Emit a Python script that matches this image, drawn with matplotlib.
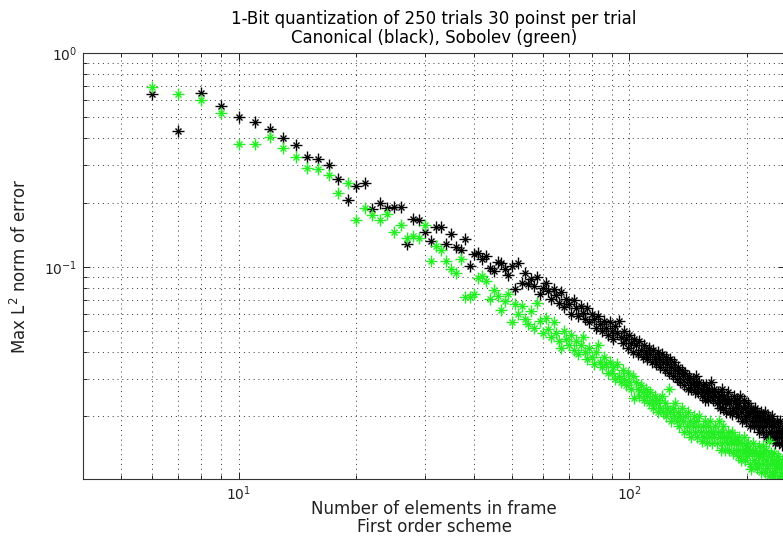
import matplotlib
matplotlib.use("Agg")
import matplotlib.pyplot as plt
from matplotlib.ticker import LogLocator, NullFormatter

plt.rcParams['font.family'] = ['DejaVu Sans']
plt.rcParams['mathtext.fontset'] = 'dejavusans'
plt.rcParams['mathtext.default'] = 'regular'

# ? number of frame elements, one point per N for each scheme
n_elements = list(range(6, 251))

# ? canonical (black) max L2 error, N = 6..250
canonical = [
    0.642, 0.43, 0.649, 0.564, 0.50, 0.474, 0.44, 0.399, 0.37, 0.328,
    0.321, 0.301, 0.259, 0.206, 0.24, 0.248, 0.187, 0.198, 0.189, 0.191,
    0.191, 0.128, 0.168, 0.166, 0.146, 0.132, 0.153, 0.153, 0.128, 0.143,
    0.124, 0.12, 0.135, 0.101, 0.115,
    0.116, 0.109, 0.112, 0.099, 0.096, 0.106, 0.104, 0.098, 0.092, 0.101,
    0.079, 0.104, 0.084, 0.094, 0.083, 0.088, 0.081, 0.090, 0.075, 0.080,
    0.084, 0.077, 0.071, 0.079, 0.074, 0.068, 0.076, 0.065, 0.071, 0.067,
    0.060, 0.070, 0.064, 0.059, 0.066, 0.061, 0.057, 0.064, 0.055, 0.060,
    0.057, 0.052, 0.059, 0.054, 0.050, 0.056, 0.052, 0.048, 0.055, 0.050,
    0.046, 0.053, 0.049, 0.056, 0.047, 0.044, 0.050, 0.046, 0.042, 0.048,
    0.044, 0.040, 0.046, 0.043, 0.039, 0.045, 0.041, 0.038, 0.043, 0.040,
    0.037, 0.042, 0.039, 0.036, 0.041, 0.038, 0.035, 0.040, 0.037, 0.034,
    0.039, 0.036, 0.033, 0.038, 0.035, 0.032, 0.037, 0.034, 0.031, 0.036,
    0.033, 0.030, 0.034, 0.032, 0.029, 0.033, 0.031, 0.028, 0.032, 0.030,
    0.027, 0.031, 0.029, 0.027, 0.030, 0.028, 0.026, 0.031, 0.028, 0.026,
    0.029, 0.027, 0.025, 0.028, 0.026, 0.024, 0.028, 0.026, 0.024, 0.027,
    0.025, 0.029, 0.026, 0.024, 0.027, 0.025, 0.023, 0.026, 0.024, 0.022,
    0.025, 0.027, 0.024, 0.022, 0.025, 0.023, 0.021, 0.024, 0.026, 0.023,
    0.021, 0.024, 0.0205, 0.022, 0.025, 0.023, 0.021, 0.024, 0.022, 0.020,
    0.023, 0.025, 0.021, 0.019, 0.022, 0.024, 0.020, 0.022, 0.019, 0.021,
    0.023, 0.020, 0.018, 0.021, 0.022, 0.019, 0.021, 0.018, 0.020, 0.022,
    0.019, 0.021, 0.018, 0.020, 0.017, 0.019, 0.021, 0.018, 0.020, 0.017,
    0.019, 0.021, 0.018, 0.016, 0.019, 0.020, 0.017, 0.019, 0.016, 0.018,
    0.020, 0.017, 0.019, 0.016, 0.018, 0.015, 0.017, 0.019, 0.016, 0.018,
    0.015, 0.017, 0.019, 0.016, 0.0147, 0.017, 0.018, 0.016, 0.015, 0.017,
]

# ? Sobolev (green) max L2 error, N = 6..250
sobolev = [
    0.692, 0.642, 0.602, 0.523, 0.374, 0.374, 0.403, 0.358, 0.325, 0.291,
    0.286, 0.27, 0.222, 0.248, 0.166, 0.189, 0.175, 0.166, 0.177, 0.146,
    0.157, 0.137, 0.14, 0.137, 0.157, 0.107, 0.125, 0.12, 0.107, 0.098,
    0.094, 0.109, 0.072, 0.072, 0.075,
    0.089, 0.091, 0.086, 0.071, 0.078, 0.073, 0.063, 0.069, 0.075, 0.055,
    0.067, 0.060, 0.066, 0.057, 0.054, 0.062, 0.052, 0.068, 0.056, 0.049,
    0.058, 0.051, 0.047, 0.055, 0.049, 0.045, 0.042, 0.050, 0.046, 0.043,
    0.048, 0.041, 0.045, 0.039, 0.043, 0.047, 0.040, 0.037, 0.042, 0.038,
    0.035, 0.040, 0.043, 0.036, 0.034, 0.038, 0.035, 0.032, 0.036, 0.032,
    0.034, 0.030, 0.035, 0.031, 0.029, 0.033, 0.030, 0.028, 0.032, 0.029,
    0.027, 0.031, 0.0245, 0.029, 0.027, 0.025, 0.028, 0.026, 0.024, 0.027,
    0.025, 0.023, 0.026, 0.024, 0.022, 0.025, 0.023, 0.021, 0.024, 0.022,
    0.025, 0.021, 0.023, 0.020, 0.022, 0.027, 0.021, 0.019, 0.022, 0.020,
    0.023, 0.019, 0.021, 0.018, 0.020, 0.022, 0.019, 0.017, 0.020, 0.018,
    0.021, 0.017, 0.019, 0.016, 0.018, 0.020, 0.017, 0.019, 0.016, 0.018,
    0.020, 0.017, 0.0153, 0.018, 0.016, 0.019, 0.017, 0.015, 0.018, 0.016,
    0.019, 0.017, 0.015, 0.017, 0.016, 0.018, 0.015, 0.017, 0.019, 0.016,
    0.014, 0.017, 0.015, 0.018, 0.016, 0.014, 0.016, 0.015, 0.017, 0.014,
    0.016, 0.015, 0.017, 0.0135, 0.015, 0.016, 0.014, 0.0155, 0.013, 0.015,
    0.016, 0.014, 0.0125, 0.015, 0.0135, 0.016, 0.014, 0.0125, 0.0145, 0.013,
    0.015, 0.0137, 0.012, 0.014, 0.0114, 0.0135, 0.015, 0.0125, 0.014, 0.012,
    0.0135, 0.0115, 0.013, 0.0145, 0.012, 0.0135, 0.011, 0.013, 0.0145, 0.012,
    0.0135, 0.011, 0.0125, 0.014, 0.0115, 0.013, 0.0105, 0.0153, 0.012, 0.0135,
    0.011, 0.0125, 0.0105, 0.012, 0.0135, 0.011, 0.0125, 0.010, 0.0115, 0.013,
    0.0105, 0.012, 0.0102, 0.0115, 0.0107, 0.0125, 0.0103, 0.0115, 0.010, 0.012,
]

# ? Setup figure (783 x 541 px)
fig = plt.figure(figsize=(7.83, 5.41), dpi=100)
ax = fig.add_axes([83 / 783, 62 / 541, 702 / 783, 426 / 541])
ax.set_xscale('log')
ax.set_yscale('log')
ax.set_xlim(4, 250)
ax.set_ylim(0.0102, 1)

# ? MATLAB style '*' marker = '+' overlaid with 'x'
for vals, col in ((canonical, 'black'), (sobolev, '#22ee22')):
    ax.plot(n_elements, vals, linestyle='none', marker='+', markersize=8,
            markeredgewidth=1.0, color=col)
    ax.plot(n_elements, vals, linestyle='none', marker='x', markersize=4.5,
            markeredgewidth=1.0, color=col)

# ? Grid, ticks and spines
ax.xaxis.set_major_locator(LogLocator(base=10))
ax.xaxis.set_minor_locator(LogLocator(base=10, subs=range(2, 10)))
ax.xaxis.set_minor_formatter(NullFormatter())
ax.yaxis.set_minor_formatter(NullFormatter())
ax.grid(True, which='both', color='#333333', linestyle=(0, (1, 4)), linewidth=0.7)
ax.tick_params(which='both', direction='in', top=True, right=True, width=0.7,
               colors='#222222')
ax.tick_params(which='major', length=5, labelsize=10, pad=4)
ax.tick_params(which='minor', length=3)
for sp in ax.spines.values():
    sp.set_linewidth(0.8)
    sp.set_color('#333333')

ax.set_title("1-Bit quantization of 250 trials 30 poinst per trial\n"
             "Canonical (black), Sobolev (green)", fontsize=12, pad=7,
             linespacing=1.1)
ax.set_xlabel("Number of elements in frame\nFirst order scheme", fontsize=12,
              linespacing=0.95, color='#222222')
ax.xaxis.set_label_coords(0.5, -0.05)
ax.set_ylabel(r"Max L$^2$ norm of error", fontsize=12, color='#222222')
ax.yaxis.set_label_coords(-0.076, 0.5)

fig.savefig("out.png", dpi=100)
